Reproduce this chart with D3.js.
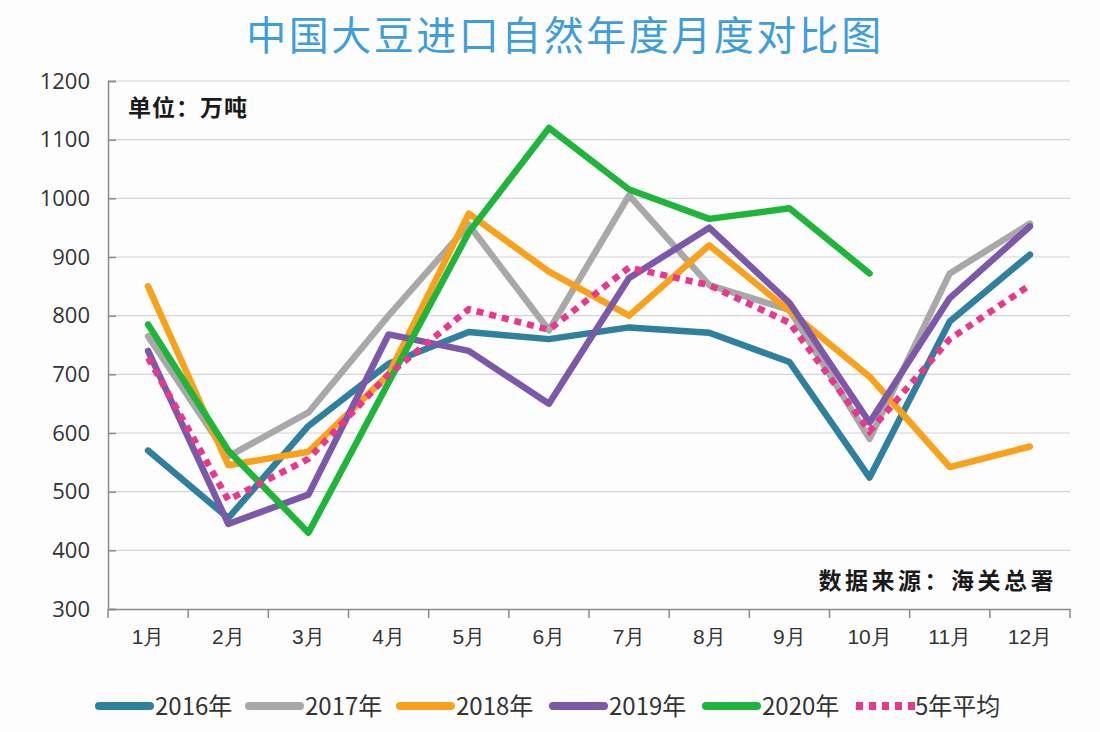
<!DOCTYPE html>
<html>
<head>
<meta charset="utf-8">
<script src="https://cdn.jsdelivr.net/npm/d3@7"></script>
<style>
  body { margin: 0; background: #fdfdfe; }
  svg { display: block; font-family: "Noto Sans CJK SC", "Noto Sans", sans-serif; }
</style>
</head>
<body>
<svg id="chart"></svg>
<script>
var months = ["1月","2月","3月","4月","5月","6月","7月","8月","9月","10月","11月","12月"];
var y_ticks = [300,400,500,600,700,800,900,1000,1100,1200];

var series_names = ["2016年","2017年","2018年","2019年","2020年","5年平均"];
var v2016 = [570,455,612,718,772,760,780,771,721,524,790,904];
var v2017 = [765,560,635,800,955,775,1005,852,810,590,872,957];
var v2018 = [850,545,568,700,974,875,800,920,808,696,542,577];
var v2019 = [740,445,495,768,740,650,864,950,822,618,830,952];
var v2020 = [785,570,430,686,942,1120,1015,965,983,872];
var vavg  = [728,486,556,700,811,776,882,852,788,603,760,852];

var colors = ["#2f7f9e","#a8a8a8","#f9a11b","#7b59a8","#1fb53a","#e8378c"];

var W = 1100, H = 732;
var margin = {top: 81, right: 30, bottom: 123, left: 108};
var width = 1070 - margin.left,
    height = 609 - margin.top;

var svg = d3.select("svg#chart").attr("width", W).attr("height", H);

svg.append("rect").attr("width", W).attr("height", H).attr("fill", "#fdfdfe");

// title
svg.append("text")
  .attr("x", 565).attr("y", 50)
  .attr("text-anchor", "middle")
  .attr("fill", "#3f9ddc")
  .style("font-size", "40px")
  .style("letter-spacing", "2.5px")
  .text("中国大豆进口自然年度月度对比图");

var g = svg.append("g").attr("transform", "translate(" + margin.left + "," + margin.top + ")");

var x = d3.scaleBand().domain(months).range([0, width]);
var y = d3.scaleLinear().domain([300, 1200]).range([height, 0]);

// grid
g.append("g").selectAll("line")
  .data(y_ticks.slice(1))
  .enter().append("line")
  .attr("x1", 0).attr("x2", width)
  .attr("y1", function(d){ return y(d); })
  .attr("y2", function(d){ return y(d); })
  .attr("stroke", "#d4d4d8").attr("stroke-width", 1.2);

// y axis
var yAxis = d3.axisLeft(y).tickValues(y_ticks).tickFormat(d3.format("d")).tickSize(-8).tickPadding(18);
g.append("g").call(yAxis)
  .call(function(a){
    a.select(".domain").attr("stroke", "#8a8a8a").attr("stroke-width", 1.5);
    a.selectAll(".tick line").attr("stroke", "#8a8a8a").attr("stroke-width", 1.5);
    a.selectAll(".tick text").attr("fill", "#333").style("font-size", "22px")
      .style("font-family", "'Open Sans', 'Noto Sans', sans-serif");
  });

// x axis
var xAxis = d3.axisBottom(x).tickSize(0).tickPadding(20);
var xg = g.append("g").attr("transform", "translate(0," + height + ")").call(xAxis);
xg.select(".domain").attr("stroke", "#8a8a8a").attr("stroke-width", 1.5);
xg.selectAll(".tick text").attr("fill", "#333").style("font-size", "21px");
xg.selectAll("line.sep")
  .data(months.map(function(m, i){ return i; }).concat([months.length]))
  .enter().append("line").attr("class", "sep")
  .attr("x1", function(i){ return i * x.bandwidth(); })
  .attr("x2", function(i){ return i * x.bandwidth(); })
  .attr("y1", 0).attr("y2", 9)
  .attr("stroke", "#8a8a8a").attr("stroke-width", 1.5);

// lines
var all_series = [v2016, v2017, v2018, v2019, v2020, vavg];
var line = d3.line()
  .x(function(d, i){ return x(months[i]) + x.bandwidth() / 2; })
  .y(function(d){ return y(d); });

all_series.forEach(function(vals, k){
  var p = g.append("path")
    .datum(vals)
    .attr("d", line)
    .attr("fill", "none")
    .attr("stroke", colors[k])
    .attr("stroke-width", 6.5)
    .attr("stroke-linejoin", "round");
  if (k == 5) {
    p.attr("stroke-dasharray", "7,6").attr("stroke-linejoin", "miter");
  } else {
    p.attr("stroke-linecap", "round");
  }
});

// notes
svg.append("text").attr("x", 128).attr("y", 116)
  .attr("fill", "#1a1a1a").style("font-size", "23px").style("font-weight", "bold")
  .style("letter-spacing", "1px")
  .text("单位：万吨");
svg.append("text").attr("x", 1057).attr("y", 589)
  .attr("text-anchor", "end")
  .attr("fill", "#1a1a1a").style("font-size", "23px").style("font-weight", "bold")
  .style("letter-spacing", "3.5px")
  .text("数据来源：海关总署");

// legend
var legend_x = [95, 245, 396, 549, 702, 855];
var lg = svg.append("g");
series_names.forEach(function(name, k){
  var item = lg.append("g").attr("transform", "translate(" + legend_x[k] + ",706)");
  var l = item.append("line")
    .attr("x1", 4).attr("x2", 55).attr("y1", 0).attr("y2", 0)
    .attr("stroke", colors[k]).attr("stroke-width", 8);
  if (k == 5) l.attr("stroke-dasharray", "7,6").attr("x1", 1).attr("x2", 62);
  else l.attr("stroke-linecap", "round");
  item.append("text").attr("x", 60).attr("y", 9)
    .attr("fill", "#333").style("font-size", "24px")
    .text(name);
});
</script>
</body>
</html>
